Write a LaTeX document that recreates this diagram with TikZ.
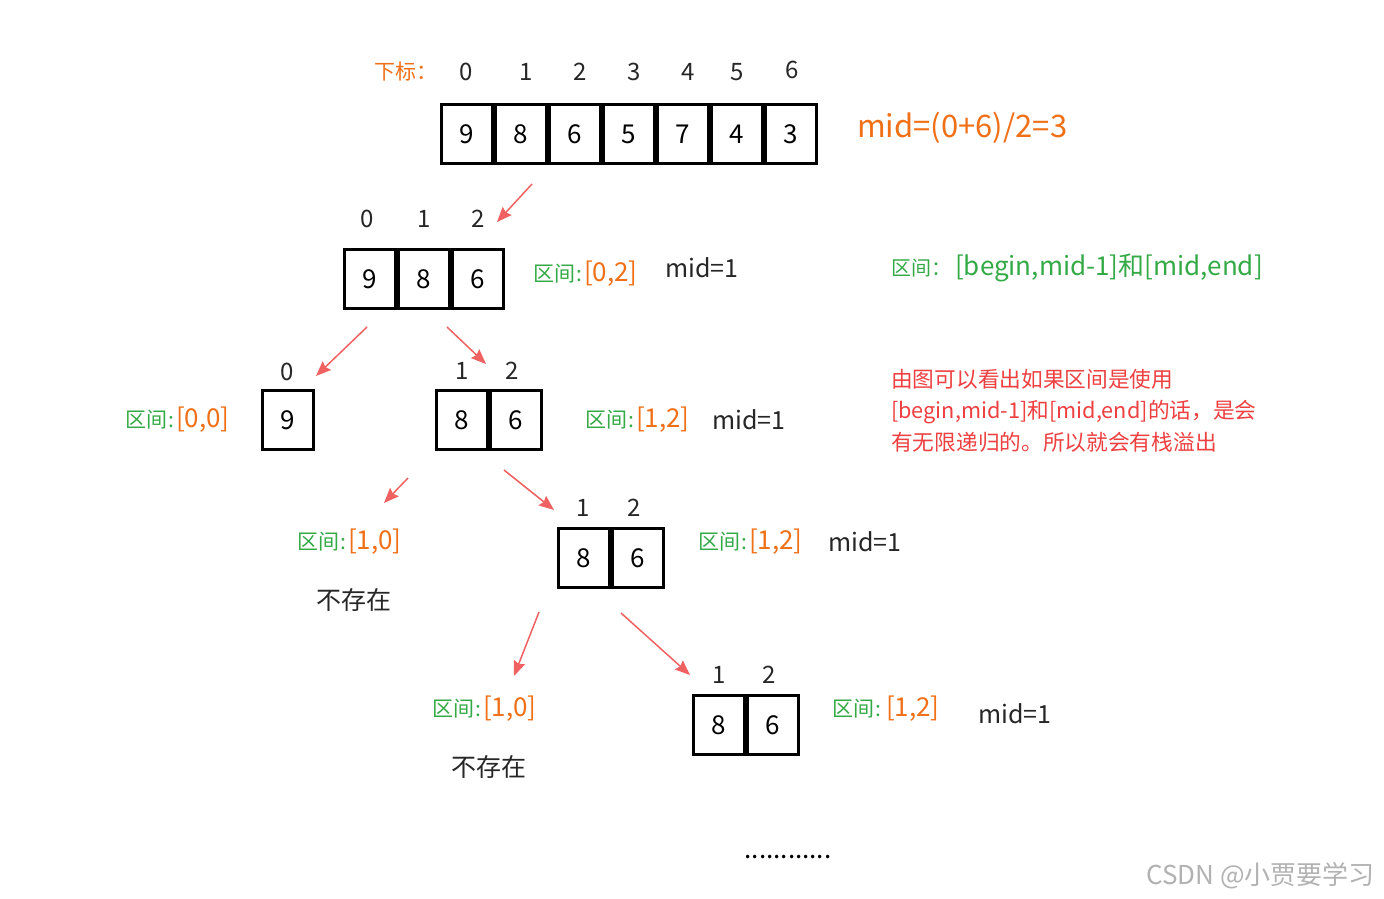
\documentclass[tikz,border=0pt]{standalone}
\usepackage{fontspec}
\setmainfont{Noto Sans CJK SC}
\usetikzlibrary{arrows.meta}
\definecolor{grn}{RGB}{52,170,70}
\definecolor{org}{RGB}{240,112,24}
\definecolor{redtxt}{RGB}{238,64,64}
\definecolor{arr}{RGB}{240,98,98}
\newcommand{\fs}[1]{\fontsize{#1}{#1}\selectfont}
\newcommand{\qj}{\textcolor{grn}{\fs{21}区间\hspace{1.5pt}:\hspace{1.5pt}}}
\newcommand{\lowd}[1]{\raisebox{-2.5pt}{#1}}
\begin{document}
\begin{tikzpicture}[x=1pt,y=-1pt,
  cellbox/.style={draw, line width=3pt, minimum width=51pt, minimum height=59pt, inner sep=0pt, font=\fs{26}},
  idx/.style={inner sep=0pt, font=\fs{24}, text=black!85},
  lbl/.style={anchor=west, inner sep=0pt},
  arrowline/.style={draw=arr, line width=1.5pt, -{Stealth[length=15pt,width=12pt,inset=2pt]}},
  blk/.style={lbl, font=\fs{25}, text=black!85}]
\useasboundingbox (0,0) rectangle (1384,899);
\fill[white] (0,0) rectangle (1384,899);

% ---------- top array ----------
\node[lbl, text=org, font=\fs{21}] (xb) at (374,72) {下标：};
\foreach \v/\i [count=\k from 0] in {9/0,8/1,6/2,5/3,7/4,4/5,3/6}{
  \node[cellbox] (t\k) at ({467+54*\k},134) {\lowd{\v}};
}
\node[idx] (ti0) at (466,72) {0};
\node[idx] (ti1) at (526,72) {1};
\node[idx] (ti2) at (580,72) {2};
\node[idx] (ti3) at (634,72) {3};
\node[idx] (ti4) at (688,72) {4};
\node[idx] (ti5) at (737,72) {5};
\node[idx] (ti6) at (792,70) {6};
\node[lbl, text=org, font=\fs{31}] (midtop) at (857,128) {mid=(0+6)/2=3};

% ---------- level 2 ----------
\node[cellbox] (a0) at (370,279) {\lowd{9}};
\node[cellbox] (a1) at (424,279) {\lowd{8}};
\node[cellbox] (a2) at (478,279) {\lowd{6}};
\node[idx] (ai0) at (367,219) {0};
\node[idx] (ai1) at (424,219) {1};
\node[idx] (ai2) at (478,219) {2};
\node[lbl] (al) at (533,274) {\qj\textcolor{org}{\fs{26}[0,2]}};
\node[blk] (am) at (665,268) {mid=1};
\node[lbl, text=grn] (hd) at (891,268) {\fs{20}区间：\hspace{4pt}\fs{26}[begin,mid-1]和[mid,end]};
\coordinate (s1) at (532,184);
\coordinate (e1) at (497,222);
\draw[arrowline] (s1) -- (e1);

% ---------- level 3 ----------
\node[cellbox] (b0) at (288,420) {\lowd{9}};
\node[idx] (bi0) at (287,372) {0};
\node[lbl] (bl) at (125,420) {\qj\textcolor{org}{\fs{26}[0,0]}};
\node[cellbox] (c0) at (462,420) {\lowd{8}};
\node[cellbox] (c1) at (516,420) {\lowd{6}};
\node[idx] (ci0) at (462,371) {1};
\node[idx] (ci1) at (512,371) {2};
\node[lbl] (cl) at (585,420) {\qj\textcolor{org}{\fs{26}[1,2]}};
\node[blk] (cm) at (712,420) {mid=1};
\node[lbl, text=redtxt, font=\fontsize{21.7}{31.5}\selectfont, align=left, anchor=north west] (para) at (891,369)
  {由图可以看出如果区间是使用\\{}{[}begin,mid-1]和[mid,end]的话，是会\\有无限递归的。所以就会有栈溢出};
\coordinate (s2) at (367,327);
\coordinate (e2) at (316,376);
\coordinate (s3) at (447,327);
\coordinate (e3) at (486,364);
\draw[arrowline] (s2) -- (e2);
\draw[arrowline] (s3) -- (e3);

% ---------- level 4 ----------
\node[lbl] (dl) at (297,542) {\qj\textcolor{org}{\fs{26}[1,0]}};
\node[blk] (dn) at (316,600) {不存在};
\node[cellbox] (f0) at (584,558) {\lowd{8}};
\node[cellbox] (f1) at (638,558) {\lowd{6}};
\node[idx] (fi0) at (583,508) {1};
\node[idx] (fi1) at (634,508) {2};
\node[lbl] (fl) at (698,542) {\qj\textcolor{org}{\fs{26}[1,2]}};
\node[blk] (fm) at (828,542) {mid=1};
\coordinate (s4) at (408,478);
\coordinate (e4) at (384,503);
\coordinate (s5) at (504,470);
\coordinate (e5) at (554,510);
\draw[arrowline] (s4) -- (e4);
\draw[arrowline] (s5) -- (e5);

% ---------- level 5 ----------
\node[lbl] (gl) at (432,709) {\qj\textcolor{org}{\fs{26}[1,0]}};
\node[blk] (gn) at (451,767) {不存在};
\node[cellbox] (h0) at (719,725) {\lowd{8}};
\node[cellbox] (h1) at (773,725) {\lowd{6}};
\node[idx] (hi0) at (719,675) {1};
\node[idx] (hi1) at (769,675) {2};
\node[lbl] (hl) at (832,709) {\qj\hspace{3pt}\textcolor{org}{\fs{26}[1,2]}};
\node[blk] (hm) at (978,714) {mid=1};
\coordinate (s6) at (539,612);
\coordinate (e6) at (514,676);
\coordinate (s7) at (621,613);
\coordinate (e7) at (690,675);
\draw[arrowline] (s6) -- (e6);
\draw[arrowline] (s7) -- (e7);

% ---------- bottom ----------
\node[inner sep=0pt, font=\fs{26}] (dots) at (788,857) {............};
\node[lbl, text=black!30, font=\fs{26}] (wm) at (1146,876) {CSDN @小贾要学习};
\end{tikzpicture}
\end{document}
